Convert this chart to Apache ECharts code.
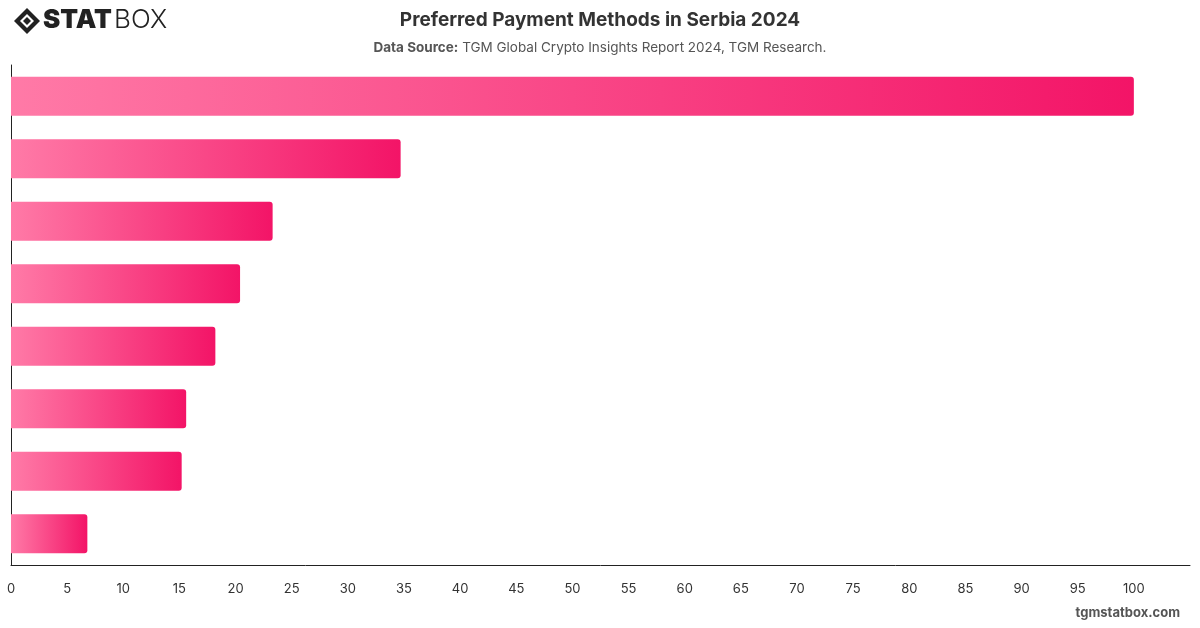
<!DOCTYPE html>
<html>
<head>
<meta charset="utf-8">
<script src="https://cdn.jsdelivr.net/npm/echarts@6/dist/echarts.min.js"></script>
<style>
  html, body { margin: 0; padding: 0; background: #fff; }
  #chart { width: 1200px; height: 628px; }
</style>
</head>
<body>
<div id="chart"></div>
<script>
// categories are not labelled in the picture, order is top to bottom
var categories = ["Method 1", "Method 2", "Method 3", "Method 4", "Method 5", "Method 6", "Method 7", "Method 8"];
var values = [100, 34.7, 23.3, 20.4, 18.2, 15.6, 15.2, 6.8];
var tickMax = 100;

var myChart = echarts.init(document.getElementById("chart"));

var option = {
  animation: false,
  textStyle: { fontFamily: "Inter, 'Noto Sans', sans-serif" },
  title: [
    {
      text: "Preferred Payment Methods in Serbia 2024",
      left: "center",
      top: 6,
      textStyle: { fontSize: 19, fontWeight: "bold", color: "#333" }
    },
    {
      text: "{b|Data Source:} TGM Global Crypto Insights Report 2024, TGM Research.",
      left: "center",
      top: 36,
      textStyle: {
        fontSize: 13.5,
        fontWeight: "normal",
        color: "#555",
        rich: { b: { fontSize: 13.5, fontWeight: "bold", color: "#555" } }
      }
    }
  ],
  graphic: [
    // logo icon
    { type: "polygon", shape: { points: [[14, 21], [27, 8], [40, 21], [27, 34]] }, style: { fill: "#222" } },
    { type: "polygon", shape: { points: [[20, 21], [27, 14], [34, 21], [27, 28]] }, style: { fill: "#fff" } },
    { type: "polygon", shape: { points: [[23, 21], [27, 17], [31, 21], [27, 25]] }, style: { fill: "#222" } },
    {
      type: "text", left: 43, top: 7,
      style: { text: "STAT", font: "900 26px Inter, sans-serif", fill: "#222" }
    },
    {
      type: "text", left: 114, top: 7,
      style: { text: "BOX", font: "300 26px Inter, sans-serif", fill: "#222" }
    },
    {
      type: "text", right: 20, top: 607,
      style: { text: "tgmstatbox.com", font: "bold 13px Inter, sans-serif", fill: "#555" }
    }
  ],
  grid: {
    left: 11,
    right: 10,
    top: 65,
    bottom: 63
  },
  xAxis: {
    type: "value",
    min: 0,
    max: 105,
    interval: 5,
    axisLine: { show: true, lineStyle: { color: "#222", width: 1 } },
    axisTick: { show: false },
    splitLine: { show: false },
    axisLabel: {
      margin: 18,
      fontSize: 13,
      color: "#333",
      formatter: function(v) {
        return v > tickMax ? "" : v;
      }
    }
  },
  yAxis: {
    type: "category",
    inverse: true,
    data: categories,
    axisLine: { show: true, lineStyle: { color: "#222", width: 1 } },
    axisTick: { show: false },
    axisLabel: { show: false }
  },
  series: [
    {
      type: "bar",
      data: values,
      barWidth: 39,
      itemStyle: {
        borderRadius: [0, 3, 3, 0],
        color: {
          type: "linear",
          x: 0, y: 0, x2: 1, y2: 0,
          colorStops: [
            { offset: 0, color: "#ff7aa7" },
            { offset: 1, color: "#f31467" }
          ],
          global: false
        }
      }
    }
  ]
};

myChart.setOption(option);
window.addEventListener("resize", function() {
  myChart.resize();
});
</script>
</body>
</html>
